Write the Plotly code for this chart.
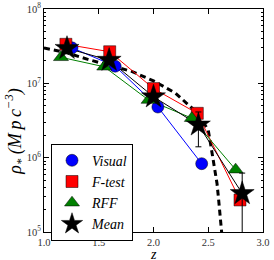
import plotly.graph_objects as go

# Data
vis_z = [1.256, 1.65, 2.04, 2.44]
vis_rho = [3.0e7, 1.7e7, 4.8e6, 8.3e5]

ft_z = [1.20, 1.60, 2.00, 2.40, 2.79]
ft_rho = [3.35e7, 2.66e7, 8.5e6, 3.95e6, 2.7e5]

rff_z = [1.155, 1.55, 1.955, 2.35, 2.75]
rff_rho = [2.24e7, 1.67e7, 5.96e6, 3.4e6, 6.9e5]

mean_z = [1.21, 1.595, 2.00, 2.41, 2.81]
mean_rho = [2.96e7, 2.05e7, 6.6e6, 2.76e6, 3.3e5]
mean_err = [0, 0, 0, 1.36e6, 2.9e5]

curve_z = [1.0, 1.2, 1.4, 1.6, 1.8, 2.0, 2.2, 2.4, 2.5, 2.518, 2.549, 2.58, 2.595, 2.61, 2.625]
curve_rho = [2.99e7, 2.6e7, 2.1e7, 1.75e7, 1.45e7, 1.08e7, 7.4e6, 4.0e6, 2.35e6, 1.64e6,
             8.3e5, 4.5e5, 2.7e5, 1.45e5, 0.9e5]

series = [
    ("<i>Visual</i>", vis_z, vis_rho, "blue", "circle", 12, None),
    ("<i>F-test</i>", ft_z, ft_rho, "red", "square", 12, None),
    ("<i>RFF</i>", rff_z, rff_rho, "green", "triangle-up", 13, None),
    ("<i>Mean</i>", mean_z, mean_rho, "black", "star", 18, mean_err),
]

serif = "Liberation Serif"

fig = go.Figure()

fig.add_trace(go.Scatter(x=curve_z, y=curve_rho, mode="lines", showlegend=False,
                         line=dict(color="black", width=3, dash="6px,4px"), hoverinfo="skip"))

# connecting lines (no legend)
for name, xs, ys, col, sym, sz, err in series:
    fig.add_trace(go.Scatter(x=xs, y=ys, mode="lines", showlegend=False,
                             line=dict(color=col, width=1), hoverinfo="skip"))

# markers (legend)
for name, xs, ys, col, sym, sz, err in series:
    kw = {}
    if err is not None:
        kw["error_y"] = dict(type="data", array=err, visible=True,
                             color="black", thickness=1, width=3)
    fig.add_trace(go.Scatter(x=xs, y=ys, mode="markers", name=name,
                             marker=dict(symbol=sym, size=sz, color=col,
                                         line=dict(color="black", width=0.5)), **kw))

axis_common = dict(showline=True, linecolor="black", linewidth=1, mirror="ticks",
                   ticks="inside", tickcolor="black", showgrid=False, zeroline=False,
                   automargin=False,
                   tickfont=dict(family=serif, size=10.5, color="#333"))

fig.update_xaxes(range=[1.0, 3.0], dtick=0.5, tickformat=".1f", ticklen=5,
                 **axis_common)
fig.update_yaxes(type="log", range=[5, 8], tickvals=[1e5, 1e6, 1e7, 1e8],
                 ticktext=["10<sup>5</sup>", "10<sup>6</sup>", "10<sup>7</sup>", "10<sup>8</sup>"],
                 ticklen=5,
                 minor=dict(ticks="inside", ticklen=2, tickcolor="black",
                            tickvals=[m * 10 ** e for e in range(5, 8) for m in range(2, 10)]),
                 **axis_common)

fig.add_annotation(text="<i>ρ<sub>*</sub> (M\u2009p\u2009c<sup>−3</sup>)</i>", xref="paper", yref="paper",
                   x=0, y=0.45, xshift=-29, textangle=-90, xanchor="center", yanchor="middle",
                   showarrow=False, font=dict(family=serif, size=18, color="black"))

fig.add_annotation(text="<i>z</i>", xref="paper", yref="paper", x=0.5, y=0,
                   yshift=-22, xanchor="center", yanchor="middle", showarrow=False,
                   font=dict(family=serif, size=14, color="black"))

fig.update_layout(
    width=274, height=260,
    margin=dict(l=44, r=11, t=9, b=28, autoexpand=False),
    paper_bgcolor="white", plot_bgcolor="white",
    legend=dict(x=0.032, y=0.396, xanchor="left", yanchor="top",
                bordercolor="black", borderwidth=1, bgcolor="white",
                font=dict(family=serif, size=14, color="black"),
                itemwidth=30, tracegroupgap=0),
)

fig.write_html("out.html", config={"displayModeBar": False},
               post_script="document.body.style.margin='0';")
